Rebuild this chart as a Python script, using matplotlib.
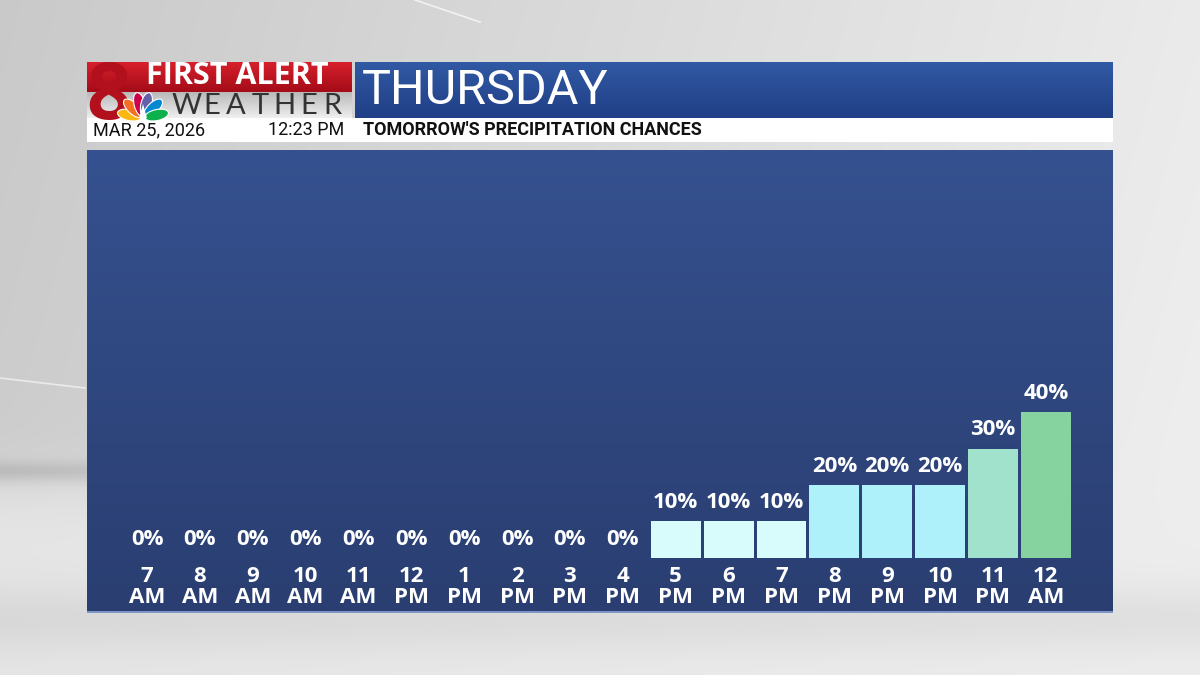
import numpy as np
import matplotlib.pyplot as plt
from matplotlib.patches import Rectangle, Ellipse, Polygon

# hourly precipitation chances for Thursday
hours = ['7', '8', '9', '10', '11', '12', '1', '2', '3', '4',
         '5', '6', '7', '8', '9', '10', '11', '12']
ampm = ['AM', 'AM', 'AM', 'AM', 'AM', 'PM', 'PM', 'PM', 'PM', 'PM',
        'PM', 'PM', 'PM', 'PM', 'PM', 'PM', 'PM', 'AM']
chance = [0, 0, 0, 0, 0, 0, 0, 0, 0, 0, 10, 10, 10, 20, 20, 20, 30, 40]

day_name = 'THURSDAY'
subtitle = "TOMORROW'S PRECIPITATION CHANCES"
date_txt = 'MAR 25, 2026'
time_txt = '12:23 PM'

# bar colour by chance value
bar_colors = {10: '#d8fbfc', 20: '#aef1fa', 30: '#a1e2cd', 40: '#87d39f'}

W, H = 1200, 675
NARROW = ['Roboto']
LBL = 'Open Sans'


def vgrad(ax, x0, x1, y0, y1, c_top, c_bot, z=0):
    a = np.array(plt.matplotlib.colors.to_rgb(c_top))
    b = np.array(plt.matplotlib.colors.to_rgb(c_bot))
    t = np.linspace(0, 1, 64)[:, None]
    img = (a * (1 - t) + b * t)[:, None, :]
    return ax.imshow(img, extent=(x0, x1, y1, y0), aspect='auto', zorder=z,
                     interpolation='bilinear')


fig = plt.figure(figsize=(12, 6.75), dpi=100)

# background / decoration layer in pixel coords
bg = fig.add_axes([0, 0, 1, 1])
bg.set_xlim(0, W)
bg.set_ylim(H, 0)
bg.axis('off')

# gray studio backdrop, lighter to the right, cloud bank at the bottom
xx = np.linspace(0, 1, 240)[None, :]
yy = np.linspace(0, 1, 135)[:, None]
base = 0.79 + 0.13 * xx + 0.02 * yy
cloud = 1 / (1 + np.exp(-(yy - 0.72) / 0.025))
base = base * (1 - cloud) + (0.90 + 0.03 * xx) * cloud
base = base - 0.10 * np.exp(-((yy - 0.70) / 0.015) ** 2) * (1 - xx) ** 2
base = base - 0.05 * np.exp(-((yy - 0.92) / 0.05) ** 2)
base = np.clip(base, 0, 0.97)
bg.imshow(np.dstack([base, base, base]), extent=(0, W, H, 0), aspect='auto',
          zorder=0, interpolation='bilinear')
bg.plot([415, 480], [0, 22], color='white', lw=1.2, alpha=0.7, zorder=1)
bg.plot([0, 85], [378, 388], color='white', lw=1.2, alpha=0.6, zorder=1)

# logo block
vgrad(bg, 87, 352, 62, 92, '#d7202c', '#a30c18', z=2)
vgrad(bg, 87, 352, 92, 118, '#b9b9b9', '#efefef', z=2)
logo_box = Rectangle((87, 62), 265, 56, transform=bg.transData)
eight = bg.text(86, 119, '8', color='#b3101e', fontsize=56, fontweight='bold',
                family=LBL, ha='left', va='baseline', zorder=3)
eight.set_clip_path(logo_box)
bg.text(146, 76, 'FIRST ALERT', color='white', fontsize=22, fontweight='bold',
        family=LBL, ha='left', va='center', zorder=4)
for i, ch in enumerate('WEATHER'):
    bg.text(187 + i * 24.3, 106, ch, color='#333333', fontsize=21,
            fontweight='normal', family='Lato', ha='center', va='center', zorder=4)

# peacock
cx, cy = 143, 118
feathers = ['#fcb711', '#f37021', '#cc004c', '#6460aa', '#0089d0', '#0db14b']
angs = [168, 136, 104, 76, 44, 12]
for c, a in zip(feathers, angs):
    r = np.deg2rad(a)
    bg.add_patch(Ellipse((cx + 14 * np.cos(r), cy - 14 * np.sin(r)), 24, 11,
                         angle=-a, facecolor=c, edgecolor='white', lw=0.8, zorder=5))
bg.add_patch(Polygon([[cx - 4, cy], [cx + 4, cy], [cx, cy - 14]],
                     closed=True, facecolor='white', zorder=6))

# title bar
vgrad(bg, 355, 1113, 62, 118, '#3159a4', '#203f86', z=2)
bg.text(362, 91, day_name, color='white', fontsize=35, family=NARROW,
        ha='left', va='center', zorder=4)

# white info strip
bg.add_patch(Rectangle((87, 118), 1026, 24, facecolor='white', zorder=2))
bg.text(93, 130, date_txt, color='#111111', fontsize=13, family=NARROW,
        ha='left', va='center', zorder=4)
bg.text(344, 130, time_txt, color='#111111', fontsize=13, family=NARROW,
        ha='right', va='center', zorder=4)
bg.text(363, 130, subtitle, color='#111111', fontsize=13, fontweight='bold',
        family=NARROW, ha='left', va='center', zorder=4)

# chart panel
vgrad(bg, 87, 1113, 150, 612, '#35518f', '#2a3e71', z=2)
bg.add_patch(Rectangle((87, 611), 1026, 2, facecolor='#7d95c4', zorder=3))

# chart axes
ax = fig.add_axes([87 / W, (H - 612) / H, 1026 / W, 462 / H])
ax.patch.set_alpha(0)
ax.axis('off')
x = np.arange(len(chance))
ax.set_xlim(-1.135, 18.27)
ax.set_ylim(-14.8, 111.8)

cols = [bar_colors.get(v, 'none') for v in chance]
ax.bar(x, chance, width=0.945, color=cols, edgecolor='none', zorder=3)

for xi, v, h, m in zip(x, chance, hours, ampm):
    ax.annotate(f'{v}%', (xi, v), xytext=(0, 13.5), textcoords='offset points',
                ha='center', va='center', color='white', fontsize=16,
                fontweight='bold', family=LBL)
    ax.annotate(h, (xi, 0), xytext=(0, -13), textcoords='offset points',
                ha='center', va='center', color='white', fontsize=16,
                fontweight='bold', family=LBL)
    ax.annotate(m, (xi, 0), xytext=(0, -28.5), textcoords='offset points',
                ha='center', va='center', color='white', fontsize=16,
                fontweight='bold', family=LBL)

fig.savefig('out.png', dpi=100)
